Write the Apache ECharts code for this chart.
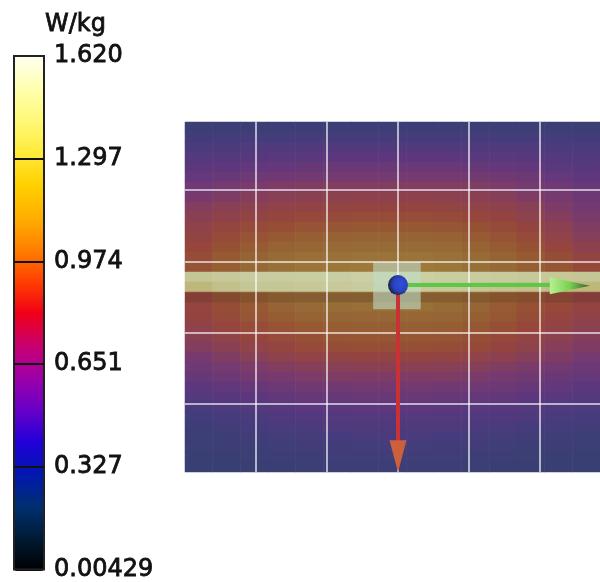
<!DOCTYPE html>
<html><head><meta charset="utf-8">
<style>html,body{margin:0;padding:0;background:#fff}#c{width:600px;height:582px}</style>
<script src="https://cdn.jsdelivr.net/npm/echarts@6/dist/echarts.min.js"></script>
</head><body><div id="c"></div>
<script>
const unitLabel = 'W/kg';
const scaleMin = 0.00429, scaleMax = 1.62;
const legendTicks = [1.62, 1.297, 0.974, 0.651, 0.327, 0.00429];
const legendLabels = ['1.620', '1.297', '0.974', '0.651', '0.327', '0.00429'];
const legendStops = ['#000000','#001a34','#003070','#0018b0','#2000d8','#6800c8','#9c00a8','#c80070','#f00018','#ff4000','#ff8000','#ffb000','#ffd000','#ffeb3c','#fff878','#ffffb0','#fffff0'];
const fieldStops = ['#1e2846','#283255','#303a64','#364070','#463c7d','#5f377d','#783a6e','#8c4150','#96463a','#965a32','#966e37','#a5823c','#b4a055','#c0bc84','#c8cca0','#d4dcaf','#e1ebc8'];
const gridX = [-20, -10, 0, 10, 20];
const gridY = [13.3, 3.3, -6.7, -16.7];
const xArrow = [[0, 0], [22, 0]];
const yArrow = [[0, 0], [0, -22]];
const sarRows = [
[.34,.35,.35,.35,.36,.36,.36,.36,.36,.36,.36,.35,.35,.35,.34],
[.38,.39,.39,.39,.40,.40,.40,.40,.40,.40,.40,.39,.39,.39,.38],
[.42,.43,.44,.44,.45,.45,.45,.45,.45,.45,.45,.44,.44,.43,.42],
[.46,.47,.48,.49,.49,.50,.50,.50,.50,.50,.49,.49,.48,.46,.45],
[.50,.51,.52,.53,.54,.55,.55,.55,.55,.55,.54,.53,.52,.49,.48],
[.53,.55,.57,.58,.59,.60,.60,.60,.60,.60,.59,.58,.56,.53,.51],
[.57,.60,.62,.64,.65,.66,.66,.66,.66,.66,.65,.63,.60,.57,.54],
[.61,.64,.67,.69,.70,.71,.72,.72,.72,.71,.70,.68,.64,.60,.56],
[.66,.69,.72,.75,.76,.77,.78,.78,.78,.77,.75,.73,.69,.63,.59],
[.70,.74,.77,.80,.82,.83,.84,.84,.84,.83,.81,.78,.73,.67,.62],
[.74,.79,.83,.86,.88,.89,.90,.90,.90,.89,.87,.83,.78,.71,.65],
[.77,.83,.88,.91,.94,.95,.96,.96,.96,.95,.92,.88,.83,.75,.68],
[.81,.87,.92,.96,.98,.99,1.0,1.0,1.0,.99,.96,.92,.87,.80,.72],
[.85,.91,.96,1.0,1.02,1.03,1.04,1.04,1.04,1.03,1.0,.96,.91,.85,.77],
[.88,.94,.99,1.03,1.05,1.06,1.07,1.07,1.07,1.06,1.03,.99,.94,.89,.82],
[1.38,1.40,1.42,1.42,1.43,1.43,1.44,1.44,1.44,1.43,1.42,1.41,1.40,1.39,1.38],
[1.30,1.34,1.38,1.38,1.39,1.40,1.41,1.41,1.40,1.39,1.38,1.36,1.34,1.32,1.30],
[.80,.88,.94,.98,1.0,1.0,1.0,1.0,1.0,1.0,.98,.94,.90,.84,.78],
[.79,.85,.91,.96,.99,1.01,1.02,1.02,1.02,1.0,.97,.92,.87,.82,.78],
[.78,.83,.89,.93,.96,.97,.98,.98,.98,.97,.94,.90,.85,.80,.74],
[.74,.79,.84,.88,.91,.93,.94,.94,.94,.93,.90,.86,.81,.76,.71],
[.70,.75,.80,.84,.87,.89,.90,.90,.90,.89,.86,.82,.77,.72,.67],
[.66,.70,.75,.79,.83,.85,.86,.86,.86,.85,.82,.78,.73,.68,.64],
[.61,.65,.69,.73,.76,.77,.78,.78,.78,.77,.75,.72,.68,.64,.60],
[.57,.60,.63,.66,.68,.69,.70,.70,.70,.69,.68,.65,.62,.59,.56],
[.54,.56,.59,.61,.63,.64,.64,.64,.64,.64,.62,.60,.58,.55,.53],
[.50,.52,.54,.56,.58,.58,.59,.59,.59,.58,.57,.56,.54,.52,.50],
[.46,.48,.50,.52,.54,.54,.55,.55,.55,.54,.53,.52,.50,.49,.47],
[.42,.44,.46,.48,.50,.50,.51,.51,.51,.50,.49,.48,.47,.45,.44],
[.39,.41,.43,.45,.46,.47,.47,.47,.47,.47,.46,.45,.44,.42,.41],
[.36,.38,.40,.42,.43,.44,.44,.44,.44,.44,.43,.42,.41,.39,.38],
[.35,.36,.38,.39,.40,.41,.42,.42,.42,.41,.40,.39,.38,.37,.36],
[.34,.35,.36,.37,.38,.38,.39,.39,.39,.38,.38,.37,.36,.35,.34],
[.33,.33,.34,.35,.36,.37,.37,.37,.37,.37,.36,.35,.34,.33,.33],
[.32,.32,.33,.33,.34,.35,.35,.35,.35,.35,.34,.33,.33,.33,.32]
];
const colNames = sarRows[0].map((_, i) => 'c' + i);
const rowNames = sarRows.map((_, i) => 'r' + i);
const heatData = [];
sarRows.forEach((row, r) => row.forEach((v, c) => heatData.push([c, r, v])));

const chart = echarts.init(document.getElementById('c'), null, {renderer: 'canvas'});
const fieldGrid = {left: 185, top: 122, width: 415, height: 350};
const textFont = {color: '#111', fontFamily: 'DejaVu Sans', fontSize: 24, fontWeight: 'normal', textBorderColor: '#111', textBorderWidth: 0.8};
chart.setOption({
  animation: false,
  backgroundColor: '#fff',
  title: {text: unitLabel, left: 45, top: 13, padding: 0, textStyle: textFont},
  grid: [
    fieldGrid,
    {...fieldGrid, z: 5},
    {left: 14, top: 56, width: 30, height: 515, show: true, z: 10, borderColor: '#222', borderWidth: 2, backgroundColor: 'transparent'}
  ],
  xAxis: [
    {type: 'category', gridIndex: 0, data: colNames, show: false},
    {type: 'value', gridIndex: 1, min: -30, max: 28.45, show: false},
    {type: 'category', gridIndex: 2, data: ['bar'], show: false}
  ],
  yAxis: [
    {type: 'category', gridIndex: 0, data: rowNames, inverse: true, show: false},
    {type: 'value', gridIndex: 1, min: -26.2, max: 22.86, show: false},
    {type: 'value', gridIndex: 2, position: 'right', min: scaleMin, max: scaleMax, z: 10,
     axisLine: {show: false}, splitLine: {show: false},
     axisTick: {show: true, inside: true, length: 30, customValues: legendTicks.slice(1, 5), lineStyle: {color: '#111', width: 2}},
     axisLabel: {margin: 10, customValues: legendTicks, ...textFont,
       formatter: v => legendLabels[legendTicks.indexOf(v)] ?? ''}}
  ],
  visualMap: [
    {type: 'continuous', show: false, seriesIndex: 0, dimension: 2, min: scaleMin, max: scaleMax,
     inRange: {color: fieldStops}},
    {type: 'continuous', show: true, seriesIndex: 1, min: scaleMin, max: scaleMax, left: 14, top: 56, padding: 0,
     itemWidth: 30, itemHeight: 515, calculable: false, text: ['', ''], hoverLink: false, showLabel: false, realtime: false,
     inRange: {color: legendStops}}
  ],
  series: [
    {type: 'heatmap', xAxisIndex: 0, yAxisIndex: 0, data: heatData, silent: true, emphasis: {disabled: true}},
    {type: 'scatter', xAxisIndex: 2, yAxisIndex: 2, data: [], silent: true},
    {type: 'line', xAxisIndex: 1, yAxisIndex: 1, data: [], silent: true, z: 3,
     markArea: {silent: true, z: 4, data: [
       [{coord: [-30, -1.1], itemStyle: {color: 'rgba(50,35,20,0.18)'}}, {coord: [28.45, -2.4]}],
       [{coord: [-3.5, 3.2], itemStyle: {color: 'rgba(190,220,200,0.6)'}}, {coord: [3.2, -3.4]}]
     ]},
     markLine: {silent: true, symbol: 'none', label: {show: false}, animation: false,
       lineStyle: {color: '#fff', width: 2, type: 'solid', opacity: .62},
       data: [...gridX.map(v => ({xAxis: v})), ...gridY.map(v => ({yAxis: v}))]}},
    {type: 'line', xAxisIndex: 1, yAxisIndex: 1, data: xArrow, showSymbol: false, z: 6, silent: true,
     lineStyle: {color: '#5cc845', width: 4}},
    {type: 'line', xAxisIndex: 1, yAxisIndex: 1, data: yArrow, showSymbol: false, z: 6, silent: true,
     lineStyle: {color: '#c83234', width: 4}},
    {type: 'scatter', xAxisIndex: 1, yAxisIndex: 1, data: [[24.2, -0.1]], symbol: 'triangle', symbolRotate: -90, symbolSize: [17, 40], z: 7, silent: true,
     itemStyle: {opacity: 1, color: {type: 'linear', x: 0, y: 0, x2: 0, y2: 1, colorStops: [{offset: 0, color: '#3c5a32'}, {offset: .5, color: '#78d050'}, {offset: 1, color: '#b8f090'}]}}},
    {type: 'scatter', xAxisIndex: 1, yAxisIndex: 1, data: [[0, -24]], symbol: 'triangle', symbolRotate: 180, symbolSize: [17, 32], z: 7, silent: true,
     itemStyle: {opacity: 1, color: '#cc5f3c'}},
    {type: 'scatter', xAxisIndex: 1, yAxisIndex: 1, data: [[0, 0]], symbol: 'circle', symbolSize: 20, z: 8, silent: true,
     itemStyle: {opacity: 1, color: {type: 'radial', x: .62, y: .45, r: .62, colorStops: [{offset: 0, color: '#3050dc'}, {offset: .6, color: '#2a42bc'}, {offset: 1, color: '#1a2040'}]}}}
  ]
});
</script></body></html>
